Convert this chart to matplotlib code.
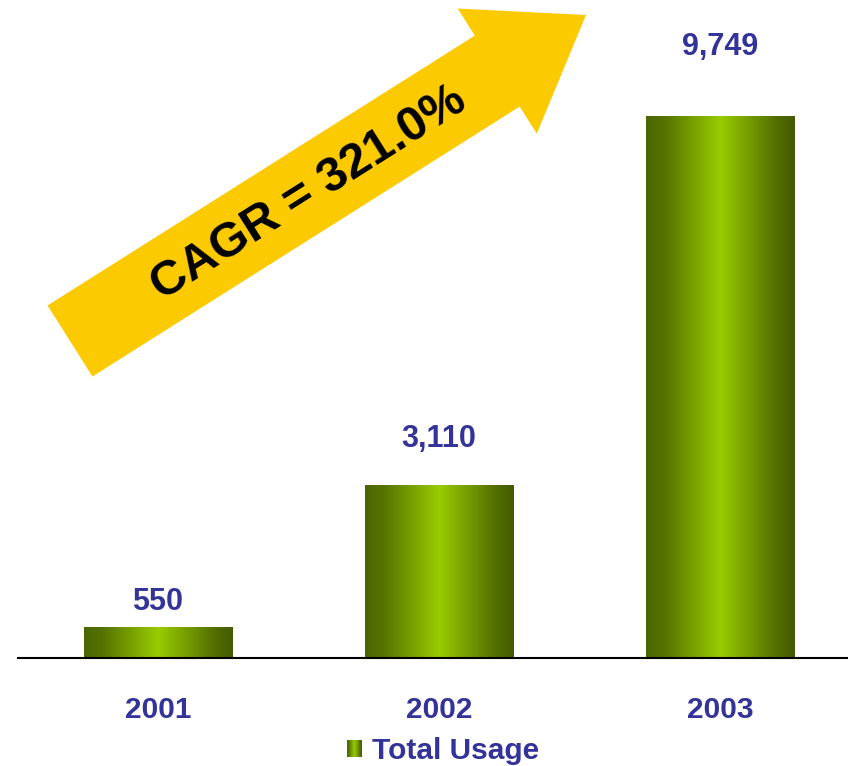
import numpy as np
import matplotlib
matplotlib.use("Agg")
import matplotlib.pyplot as plt
from matplotlib.colors import LinearSegmentedColormap
from matplotlib.patches import FancyArrow

years = ["2001", "2002", "2003"]
usage = [550, 3110, 9749]
series_name = "Total Usage"
cagr_text = "CAGR = 321.0%"

# vertical gap (points) between bar top and its value label
label_gap = [18.5, 33, 50]

plt.rcParams['font.family'] = ['Liberation Sans', 'DejaVu Sans']
plt.rcParams['font.weight'] = 'bold'

W, H = 848, 766
label_color = "#333399"
bar_cmap = LinearSegmentedColormap.from_list(
    "bar", [(0.0, "#4b6600"), (0.12, "#557200"), (0.5, "#99cc00"),
            (0.88, "#526e00"), (1.0, "#455a00")])
gradient = np.linspace(0, 1, 256).reshape(1, -1)

fig = plt.figure(figsize=(W / 100, H / 100), dpi=100)
ax = fig.add_axes([18 / W, 108 / H, 1 - 18 / W, 1 - 108 / H])

x = np.arange(len(years))
bar_w = 0.527
for xi, v, gap in zip(x, usage, label_gap):
    ax.imshow(gradient, cmap=bar_cmap, aspect='auto', interpolation='bicubic',
              extent=(xi - bar_w / 2, xi + bar_w / 2, 0, v), zorder=2)
    ax.annotate(f"{v:,}", (xi, v), xytext=(0, gap), textcoords='offset points',
                ha='center', va='center', fontsize=22, fontweight='bold',
                color=label_color)
ax.set_xlim(-0.498, 2.456)
ax.set_ylim(0, 11838)

ax.set_xticks(x)
ax.set_xticklabels(years, fontsize=21.5, fontweight='bold', color=label_color)
ax.tick_params(axis='x', length=0, pad=27.5)
ax.set_yticks([])
for side in ['top', 'right', 'left']:
    ax.spines[side].set_visible(False)
ax.spines['bottom'].set_linewidth(1.5)
ax.spines['bottom'].set_zorder(3)

# growth arrow drawn in pixel space on an overlay
over = fig.add_axes([0, 0, 1, 1], zorder=5)
over.set_xlim(0, W)
over.set_ylim(H, 0)
over.axis('off')
tail = (70, 341)
tip = (586, 15)
arrow = FancyArrow(tail[0], tail[1], tip[0] - tail[0], tip[1] - tail[1],
                   width=84, head_width=148, head_length=105,
                   length_includes_head=True, color="#fcca00", lw=0)
over.add_patch(arrow)
angle = np.degrees(np.arctan2(tail[1] - tip[1], tip[0] - tail[0]))
over.text(309, 193, cagr_text, rotation=angle, rotation_mode='anchor',
          ha='center', va='center', fontsize=35, fontweight='bold',
          color='black')

# legend: gradient swatch plus label
sw = fig.add_axes([347 / W, (H - 757) / H, 15 / W, 17 / H])
sw.imshow(gradient, cmap=bar_cmap, aspect='auto', interpolation='bicubic')
sw.axis('off')
fig.text(372 / W, (H - 751) / H, series_name, ha='left', va='center',
         fontsize=21.5, fontweight='bold', color=label_color)

fig.savefig("out.png", dpi=100)
